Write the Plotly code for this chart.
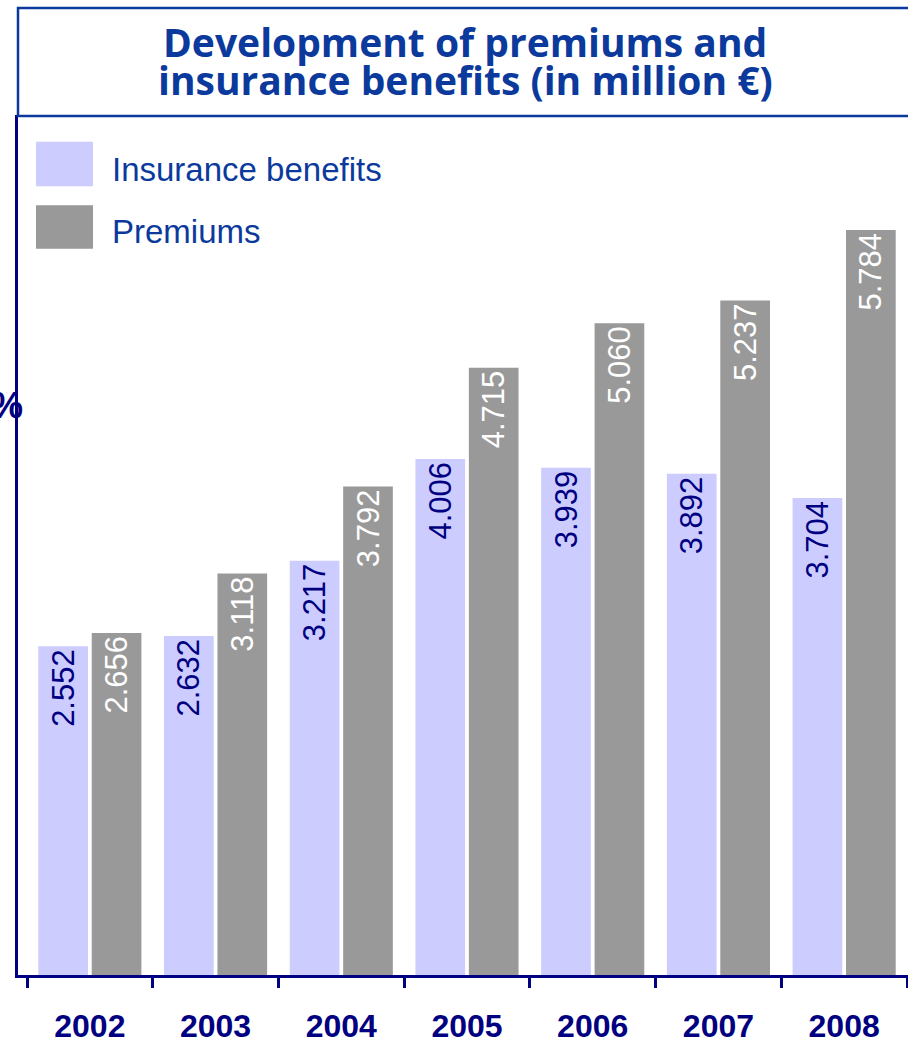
import plotly.graph_objects as go

years = ["2002", "2003", "2004", "2005", "2006", "2007", "2008"]
benefits = [2552, 2632, 3217, 4006, 3939, 3892, 3704]
premiums = [2656, 3118, 3792, 4715, 5060, 5237, 5784]
series_names = ["Insurance benefits", "Premiums"]
title_lines = ["Development of premiums and", "insurance benefits (in million €)"]

W, H = 908, 1044
L, R, T, B = 18, 0, 115, 61
PW, PH = W - L - R, H - T - B

NAVY = "#000080"
BLUE = "#0b3a9c"
C_BEN = "#ccccff"
C_PRE = "#999999"
SANS = "Liberation Sans, Arial, sans-serif"


def px(x):
    return (x - L) / PW


def py(y):
    return (H - B - y) / PH


fig = go.Figure()
fig.add_trace(go.Bar(
    x=years, y=benefits, name=series_names[0], marker=dict(color=C_BEN, line=dict(width=0)),
    texttemplate="%{y:,}", textposition="inside", insidetextanchor="end", textangle=-90,
    textfont=dict(family=SANS, size=31, color=NAVY), showlegend=False, cliponaxis=False,
))
fig.add_trace(go.Bar(
    x=years, y=premiums, name=series_names[1], marker=dict(color=C_PRE, line=dict(width=0)),
    texttemplate="%{y:,}", textposition="inside", insidetextanchor="end", textangle=-90,
    textfont=dict(family=SANS, size=31, color="white"), showlegend=False, cliponaxis=False,
))

shapes = [
    dict(type="rect", xref="paper", yref="paper", x0=px(18), x1=px(912), y0=py(116), y1=py(7),
         line=dict(color=BLUE, width=2.5), fillcolor="rgba(0,0,0,0)", layer="above"),
    dict(type="rect", xref="paper", yref="paper", x0=px(36), x1=px(93), y0=py(187), y1=py(142),
         line=dict(width=0), fillcolor=C_BEN),
    dict(type="rect", xref="paper", yref="paper", x0=px(36), x1=px(93), y0=py(250), y1=py(206),
         line=dict(width=0), fillcolor=C_PRE),
]

annotations = [
    dict(text=title_lines[0], xref="paper", yref="paper", x=px(465), y=py(41), showarrow=False,
         xanchor="center", yanchor="middle",
         font=dict(family="Open Sans, sans-serif", size=39, color=BLUE, weight="bold")),
    dict(text=title_lines[1], xref="paper", yref="paper", x=px(465), y=py(79), showarrow=False,
         xanchor="center", yanchor="middle",
         font=dict(family="Open Sans, sans-serif", size=39, color=BLUE, weight="bold")),
    dict(text=series_names[0], xref="paper", yref="paper", x=px(110), y=py(170), showarrow=False,
         xanchor="left", yanchor="middle", font=dict(family=SANS, size=33, color=BLUE)),
    dict(text=series_names[1], xref="paper", yref="paper", x=px(110), y=py(233), showarrow=False,
         xanchor="left", yanchor="middle", font=dict(family=SANS, size=33, color=BLUE)),
    dict(text="%", xref="paper", yref="paper", x=px(25), y=py(408), showarrow=False,
         xanchor="right", yanchor="middle",
         font=dict(family=SANS, size=36, color=NAVY, weight="bold")),
]

fig.update_layout(
    width=W, height=H,
    margin=dict(l=L, r=R, t=T, b=B, pad=0),
    paper_bgcolor="white", plot_bgcolor="white",
    barmode="group", bargap=0.15, bargroupgap=0.07,
    separators=",.",
    shapes=shapes, annotations=annotations,
    showlegend=False,
    xaxis=dict(
        type="category", range=[-0.5 - 9 / 125.71, 6.5 + 1 / 125.71],
        showline=True, linecolor=NAVY, linewidth=2.5,
        ticks="outside", tickson="boundaries", ticklen=10, tickwidth=2.5, tickcolor=NAVY,
        ticklabelstandoff=21,
        tickfont=dict(family=SANS, size=32, color=NAVY, weight="bold"),
        showgrid=False, zeroline=False, fixedrange=True,
    ),
    yaxis=dict(
        range=[0, 6677], showline=True, linecolor=NAVY, linewidth=2.5,
        showticklabels=False, ticks="", showgrid=False, zeroline=False, fixedrange=True,
    ),
)

fig.write_html("out.html")
